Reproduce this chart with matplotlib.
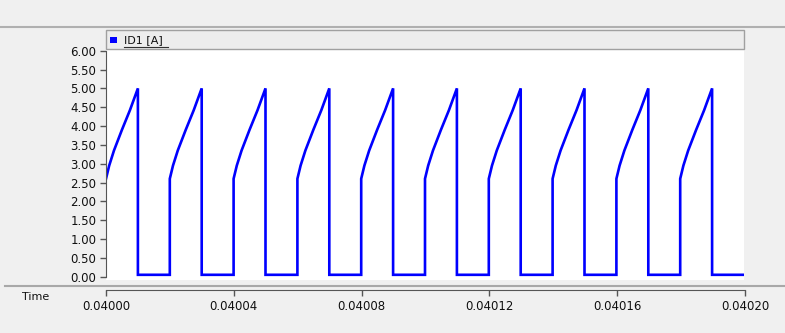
import numpy as np
import matplotlib
matplotlib.use("Agg")
import matplotlib.pyplot as plt
from matplotlib.patches import Rectangle
from matplotlib.lines import Line2D

cycle_starts = [0.04000, 0.04002, 0.04004, 0.04006, 0.04008,
                0.04010, 0.04012, 0.04014, 0.04016, 0.04018]
on_time = 0.00001          # conducting part of each cycle
ramp_frac = [0.0, 0.1, 0.25, 0.5, 0.75, 1.0]
ramp_vals = [2.6, 2.95, 3.35, 3.9, 4.42, 5.0]
low_level = 0.05
t_end = 0.04020
y_ticks = [0.0, 0.5, 1.0, 1.5, 2.0, 2.5, 3.0, 3.5, 4.0, 4.5, 5.0, 5.5, 6.0]
x_ticks = [0.04000, 0.04004, 0.04008, 0.04012, 0.04016, 0.04020]

# build the waveform from the read-off cycle shape
t, y = [], []
for s in cycle_starts:
    for f, v in zip(ramp_frac, ramp_vals):
        t.append(s + f * on_time)
        y.append(v)
    t.append(s + on_time)
    y.append(low_level)
    t.append(s + 2 * on_time)
    y.append(low_level)
t.append(t_end)
y.append(low_level)

W, H = 785, 333
bg = "#f0f0f0"
fig = plt.figure(figsize=(W / 100, H / 100), dpi=100, facecolor=bg)

def fx(px):
    return px / W

def fy(py):
    return 1 - py / H

x0, x1 = 106, 744
ax = fig.add_axes([fx(x0), fy(280), fx(x1 - x0), (280 - 49) / H])
ax.set_facecolor("white")
ax.plot(t, y, color="#0000ff", lw=1.9, solid_joinstyle="miter")
ax.set_xlim(0.04000, 0.04020)
ax.set_ylim(-0.088, 6.045)
ax.set_yticks(y_ticks)
ax.set_yticklabels(["%.2f" % v for v in y_ticks])
ax.set_xticks([])
for side in ["top", "right", "bottom"]:
    ax.spines[side].set_visible(False)
ax.spines["left"].set_color("#555555")
ax.spines["left"].set_bounds(0, 6)
ax.tick_params(axis="y", length=4, width=1, color="#555555",
               labelsize=8.5, labelcolor="#101010", pad=3)

# separate time axis strip
axx = fig.add_axes([fx(x0), fy(290), fx(745 - x0), 0.0001])
axx.set_facecolor("none")
axx.set_xlim(0.04000, 0.04020)
axx.set_yticks([])
axx.set_xticks(x_ticks)
axx.set_xticklabels(["%.5f" % v for v in x_ticks])
for side in ["top", "right", "left"]:
    axx.spines[side].set_visible(False)
axx.spines["bottom"].set_color("#555555")
axx.tick_params(axis="x", length=4, width=1, color="#555555",
                labelsize=8.5, labelcolor="#101010", pad=3)

# frame lines, legend bar
fig.add_artist(Line2D([0, 1], [fy(27), fy(27)], color="#b0b0b0", lw=1.5))
fig.add_artist(Line2D([fx(5), 1], [fy(286), fy(286)], color="#a8a8a8", lw=1.5))
fig.add_artist(Rectangle((fx(x0), fy(49)), fx(x1 - x0), (49 - 30) / H,
                         facecolor="#ededed", edgecolor="#a0a0a0", lw=1))
fig.add_artist(Rectangle((fx(110), fy(43)), fx(7), 6 / H,
                         facecolor="#0000ff", edgecolor="none"))
fig.text(fx(124), fy(40), "ID1 [A]", fontsize=8, color="#101010",
         va="center", ha="left")
fig.add_artist(Line2D([fx(124), fx(168)], [fy(46.5), fy(46.5)],
                      color="#303030", lw=0.8))
fig.text(fx(22), fy(297), "Time", fontsize=8, color="#101010",
         va="center", ha="left")

fig.savefig("out.png", dpi=100, facecolor=bg)
